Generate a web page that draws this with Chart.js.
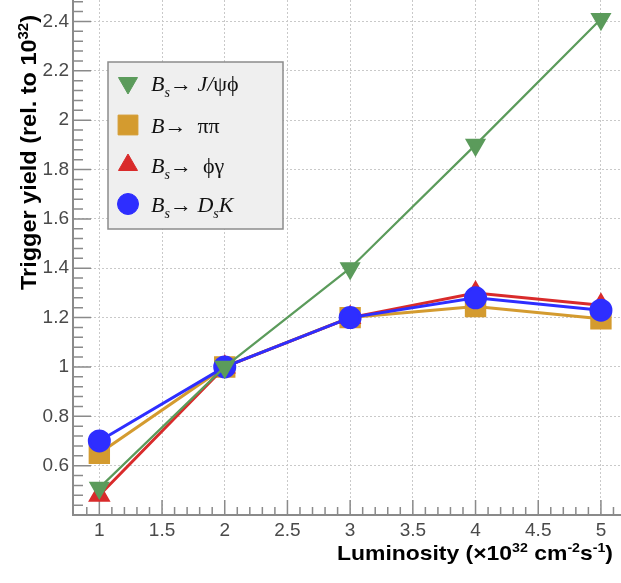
<!DOCTYPE html>
<html lang="en">
<head>
<meta charset="UTF-8">
<title>Trigger yield vs luminosity</title>
<script src="https://cdn.jsdelivr.net/npm/chart.js"></script>
<style>
    html, body { margin: 0; padding: 0; background: #fff; overflow: hidden; }
    .wrap { position: relative; width: 621px; height: 583px; }
</style>
</head>
<body>
<div class="wrap"><canvas id="yieldChart" width="621" height="583"></canvas></div>
<script>
// data
const luminosity = [1, 2, 3, 4, 5];
const jpsiPhi  = [0.51, 1.0, 1.40, 1.90, 2.41];
const pipi     = [0.65, 1.0, 1.20, 1.245, 1.195];
const phiGamma = [0.48, 1.0, 1.20, 1.30, 1.25];
const dsK      = [0.70, 1.0, 1.20, 1.28, 1.23];

const xTicks = [1, 1.5, 2, 2.5, 3, 3.5, 4, 4.5, 5];
const yTicks = [0.6, 0.8, 1, 1.2, 1.4, 1.6, 1.8, 2, 2.2, 2.4];

// legend text pieces: [text, style] where style i = italic, s = subscript
const legendLabels = [
    [['B', 'i'], ['s', 'is'], ['\u2192 ', ''], ['J/', 'i'], ['\u03c8\u03d5', '']],
    [['B', 'i'], ['\u2192  ', ''], ['\u03c0\u03c0', '']],
    [['B', 'i'], ['s', 'is'], ['\u2192  ', ''], ['\u03d5\u03b3', '']],
    [['B', 'i'], ['s', 'is'], ['\u2192 ', ''], ['D', 'i'], ['s', 'is'], ['K', 'i']]
];
const yTitle = [['Trigger yield (rel. to 10', ''], ['32', 'sup'], [')', '']];
const xTitle = [['Luminosity (\u00d710', ''], ['32', 'sup'], [' cm', ''], ['-2', 'sup'], ['s', ''], ['-1', 'sup'], [')', '']];

const green = '#5b9b5b', orange = '#d49b2f', red = '#d92b2b', blue = '#2e2eff';

function pts(arr) {
    return luminosity.map((x, i) => ({x: x, y: arr[i]}));
}

// draws a row of text pieces starting at x (or ending at x for align right)
function drawPieces(ctx, pieces, x, y, size, family, weight, align, fitWidth) {
    const parts = pieces.map(p => {
        const st = p[1];
        const small = st.indexOf('s') >= 0 || st === 'sup';
        const fs = small ? Math.round(size * 0.62) : size;
        const font = (st.indexOf('i') >= 0 ? 'italic ' : '') + weight + ' ' + fs + 'px ' + family;
        ctx.font = font;
        let dy = 0;
        if (st === 'sup') dy = -size * 0.38;
        else if (st.indexOf('s') >= 0) dy = size * 0.28;
        return {text: p[0], font: font, dy: dy, w: ctx.measureText(p[0]).width};
    });
    const total = parts.reduce((a, p) => a + p.w, 0);
    const k = fitWidth ? fitWidth / total : 1;
    let start = x;
    if (align === 'right') start = x - total * k;
    else if (align === 'center') start = x - total * k / 2;
    ctx.save();
    ctx.translate(start, y);
    ctx.scale(k, 1);
    ctx.textBaseline = 'alphabetic';
    ctx.textAlign = 'left';
    let cx = 0;
    parts.forEach(p => {
        ctx.font = p.font;
        ctx.fillText(p.text, cx, p.dy);
        cx += p.w;
    });
    ctx.restore();
}

const decorPlugin = {
    id: 'decor',
    beforeDatasetsDraw(chart) {
        const ctx = chart.ctx;
        const xs = chart.scales.x, ys = chart.scales.y;
        const area = chart.chartArea;
        ctx.save();
        ctx.strokeStyle = '#8a8a8a';
        ctx.lineWidth = 1.5;
        ctx.beginPath();
        // y ticks (inside), minor every 0.04
        for (let v = ys.min + 0.04; v < ys.max; v += 0.04) {
            const r = Math.round(v * 100) / 100;
            const major = Math.abs(r * 5 - Math.round(r * 5)) < 1e-6;
            const py = ys.getPixelForValue(r);
            ctx.moveTo(area.left, py);
            ctx.lineTo(area.left + (major ? 18 : 10), py);
        }
        // x ticks (inside), minor every 0.1
        for (let v = 0.9; v < xs.max; v += 0.1) {
            const r = Math.round(v * 10) / 10;
            const major = Math.abs(r * 2 - Math.round(r * 2)) < 1e-6;
            const px = xs.getPixelForValue(r);
            ctx.moveTo(px, area.bottom);
            ctx.lineTo(px, area.bottom - (major ? 15 : 8));
        }
        ctx.stroke();
        ctx.restore();
    },
    afterDraw(chart) {
        const ctx = chart.ctx;
        const area = chart.chartArea;
        ctx.save();
        ctx.fillStyle = '#000';
        // axis titles
        ctx.save();
        ctx.translate(36, 290);
        ctx.rotate(-Math.PI / 2);
        drawPieces(ctx, yTitle, 0, 0, 22, '"Liberation Sans", Arial, sans-serif', 'bold', 'left', 275);
        ctx.restore();
        drawPieces(ctx, xTitle, 613, 560, 21, '"Liberation Sans", Arial, sans-serif', 'bold', 'right', 276);
        ctx.restore();

        // legend box
        const bx = area.left + 35, by = 62, bw = 175, bh = 167;
        ctx.save();
        ctx.fillStyle = '#efefef';
        ctx.strokeStyle = '#8c8c8c';
        ctx.lineWidth = 1.5;
        ctx.fillRect(bx, by, bw, bh);
        ctx.strokeRect(bx, by, bw, bh);
        const rowsY = [83, 125, 165, 204];
        chart.data.datasets.forEach((ds, i) => {
            const my = rowsY[i];
            ctx.fillStyle = ds.backgroundColor;
            ctx.strokeStyle = ds.backgroundColor;
            ctx.lineWidth = 1;
            Chart.helpers.drawPoint(ctx, {
                pointStyle: ds.pointStyle,
                rotation: ds.pointRotation || 0,
                radius: ds.legendRadius,
                borderWidth: 1
            }, bx + 20, my);
            ctx.fillStyle = '#111';
            drawPieces(ctx, legendLabels[i], bx + 43, my + 8, 22, '"Liberation Serif", "DejaVu Serif", serif', 'normal', 'left');
        });
        ctx.restore();
    }
};

const tickFont = { family: '"Liberation Sans", Arial, sans-serif', size: 19 };

const ctx = document.getElementById('yieldChart').getContext('2d');
new Chart(ctx, {
    type: 'line',
    data: {
        datasets: [
            {
                label: 'Bs -> J/psi phi', data: pts(jpsiPhi),
                borderColor: green, backgroundColor: green, borderWidth: 2.2,
                pointStyle: 'triangle', pointRotation: 180, pointRadius: 10, legendRadius: 11,
                order: 0
            },
            {
                label: 'B -> pi pi', data: pts(pipi),
                borderColor: orange, backgroundColor: orange, borderWidth: 3,
                pointStyle: 'rect', pointRadius: 13, legendRadius: 14,
                order: 3
            },
            {
                label: 'Bs -> phi gamma', data: pts(phiGamma),
                borderColor: red, backgroundColor: red, borderWidth: 3,
                pointStyle: 'triangle', pointRadius: 10, legendRadius: 11,
                order: 2
            },
            {
                label: 'Bs -> Ds K', data: pts(dsK),
                borderColor: blue, backgroundColor: blue, borderWidth: 3,
                pointStyle: 'circle', pointRadius: 10, legendRadius: 10.5,
                order: 1
            }
        ]
    },
    options: {
        responsive: false,
        animation: false,
        layout: { padding: 0, autoPadding: false },
        elements: { line: { tension: 0 }, point: { borderWidth: 1 } },
        plugins: {
            legend: { display: false },
            tooltip: { enabled: false }
        },
        scales: {
            x: {
                type: 'linear',
                min: 0.79,
                max: 5.16,
                afterBuildTicks: s => { s.ticks = xTicks.map(v => ({value: v})); },
                afterFit: s => { s.height = 68; s.paddingLeft = 0; s.paddingRight = 0; },
                ticks: {
                    color: '#4a4a4a',
                    font: tickFont,
                    padding: 4,
                    maxRotation: 0,
                    callback: v => String(v)
                },
                grid: { color: '#c9c9c9', lineWidth: 1, drawTicks: false },
                border: { color: '#8a8a8a', width: 2, dash: [2, 2] }
            },
            y: {
                min: 0.4,
                max: 2.487,
                afterBuildTicks: s => { s.ticks = yTicks.map(v => ({value: v})); },
                afterFit: s => { s.width = 73; s.paddingTop = 0; s.paddingBottom = 0; },
                ticks: {
                    color: '#4a4a4a',
                    font: tickFont,
                    padding: 4,
                    callback: v => String(v)
                },
                grid: { color: '#c9c9c9', lineWidth: 1, drawTicks: false },
                border: { color: '#8a8a8a', width: 2, dash: [2, 2] }
            }
        }
    },
    plugins: [decorPlugin]
});
</script>
</body>
</html>
